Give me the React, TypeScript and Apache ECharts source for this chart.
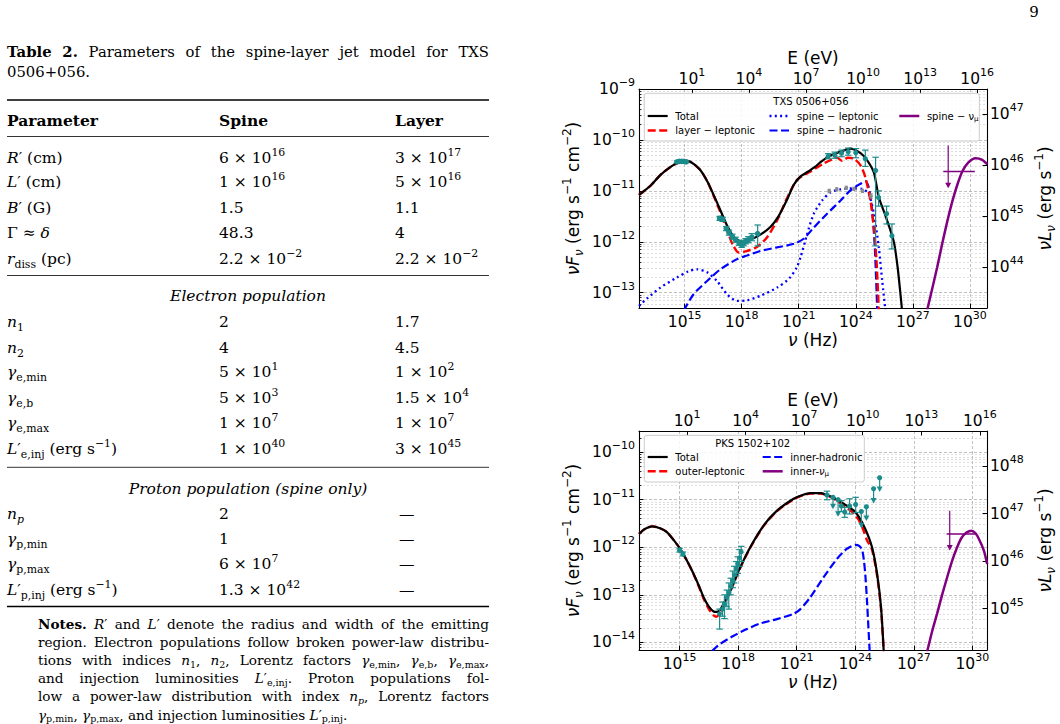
import React, { useEffect, useRef } from 'react';
import * as echarts from 'echarts';

const SANS = '"DejaVu Sans", Verdana, sans-serif';
const SERIF = '"DejaVu Serif", serif';
const TEAL = '#1b8b8b';
const GREY = '#8c8c8c';
const PURPLE = '#800080';
const RED = '#ff0000';
const BLUE = '#0000ff';

// ---------- TXS 0506+056 : [log10 nu (Hz), log10 nuFnu (erg s^-1 cm^-2)] ----------
const txsTotal = [[12.6,-11.08],[13.2,-10.9],[13.72,-10.69],[14.3,-10.52],[14.7,-10.44],[15.0,-10.41],[15.3,-10.43],[15.8,-10.58],[16.2,-10.82],[16.55,-11.1],[16.88,-11.38],[17.23,-11.68],[17.58,-11.9],[18.02,-12.0],[18.46,-11.96],[18.98,-11.86],[19.51,-11.71],[19.95,-11.49],[20.39,-11.17],[20.74,-10.88],[21.09,-10.72],[21.5,-10.62],[21.85,-10.53],[22.2,-10.42],[22.6,-10.32],[23.2,-10.23],[23.72,-10.17],[24.25,-10.26],[24.6,-10.4],[24.95,-10.64],[25.21,-11.12],[25.6,-11.53],[26.0,-12.0],[26.2,-12.5],[26.35,-13.03],[26.46,-13.45]];
const txsLayerLep = [[12.6,-11.08],[13.2,-10.9],[13.72,-10.69],[14.3,-10.52],[14.7,-10.44],[15.0,-10.41],[15.3,-10.43],[15.8,-10.58],[16.2,-10.82],[16.55,-11.12],[16.88,-11.42],[17.23,-11.78],[17.55,-12.07],[17.84,-12.21],[18.2,-12.19],[18.8,-12.1],[19.34,-11.91],[19.86,-11.58],[20.39,-11.14],[20.92,-10.78],[21.62,-10.62],[22.32,-10.46],[22.7,-10.39],[23.02,-10.35],[23.28,-10.41],[23.58,-10.35],[23.9,-10.37],[24.25,-10.5],[24.5,-10.73],[24.77,-11.19],[24.95,-11.72],[25.09,-12.37],[25.21,-13.35]];
const txsSpineLep = [[12.6,-13.26],[13.0,-13.12],[13.72,-12.9],[14.6,-12.7],[15.2,-12.58],[15.65,-12.54],[16.18,-12.6],[16.7,-12.77],[17.23,-13.03],[17.76,-13.16],[18.28,-13.15],[18.98,-13.06],[19.86,-12.9],[20.5,-12.72],[20.9,-12.5],[21.09,-12.31],[21.44,-11.85],[21.79,-11.45],[22.23,-11.19],[22.67,-11.03],[23.2,-10.97],[23.9,-10.95],[24.34,-10.96],[24.68,-11.06],[24.95,-11.45],[25.21,-12.11],[25.39,-12.77],[25.56,-13.35]];
const txsSpineHad = [[14.95,-13.35],[15.47,-13.03],[16.18,-12.77],[16.88,-12.54],[17.76,-12.34],[18.28,-12.27],[18.98,-12.18],[19.86,-12.11],[20.74,-12.04],[21.26,-11.94],[21.79,-11.72],[22.49,-11.45],[23.2,-11.19],[23.72,-10.99],[24.25,-10.86],[24.51,-10.81],[24.68,-10.93],[24.86,-11.39],[25.0,-12.11],[25.13,-13.35]];
const txsSpineNu = [[27.75,-13.35],[28.0,-12.95],[28.28,-12.5],[28.55,-12.03],[28.81,-11.6],[29.08,-11.2],[29.34,-10.88],[29.6,-10.62],[29.9,-10.45],[30.3,-10.36],[30.65,-10.39],[30.92,-10.48]];
const txsNuLimitBar = [[28.6,-10.62],[30.26,-10.62]];
const txsNuLimitArrow = [[28.86,-10.11,-10.95]];
// measured fluxes: [log nu, log nuFnu, lower, upper]
const txsOptical = [[14.6,-10.43,-10.45,-10.41],[14.72,-10.42,-10.44,-10.4],[14.84,-10.42,-10.44,-10.4],[14.96,-10.42,-10.44,-10.4],[15.08,-10.43,-10.45,-10.41]];
const txsXray = [[16.84,-11.54,-11.58,-11.5],[17.0,-11.56,-11.6,-11.52],[17.19,-11.74,-11.78,-11.7],[17.33,-11.82,-11.87,-11.77],[17.51,-11.9,-11.95,-11.85],[17.68,-11.96,-12.01,-11.91],[17.86,-12.02,-12.07,-11.97],[18.0,-12.06,-12.11,-12.01],[18.1,-12.03,-12.08,-11.98],[18.2,-11.99,-12.04,-11.94],[18.35,-11.96,-12.02,-11.9],[18.53,-11.91,-11.98,-11.84],[18.84,-11.84,-12.08,-11.67]];
const txsGamma = [[22.55,-10.32,-10.37,-10.27],[22.9,-10.3,-10.36,-10.24],[23.25,-10.26,-10.33,-10.2],[23.6,-10.23,-10.3,-10.16],[24.0,-10.25,-10.35,-10.17],[24.5,-10.37,-10.52,-10.2],[25.04,-10.6,-12.08,-10.34],[25.2,-11.13,-11.3,-11.0],[25.62,-11.45,-11.65,-11.3],[25.9,-11.88,-12.14,-11.65]];
const txsArchival = [[22.6,-11.0,-11.03,-10.97],[23.0,-10.97,-11.0,-10.94],[23.5,-10.94,-10.97,-10.91],[23.9,-10.96,-10.99,-10.93],[24.35,-11.0,-11.03,-10.97],[24.8,-11.1,-11.14,-11.06]];

// ---------- PKS 1502+102 ----------
const pksTotal = [[12.92,-11.72],[13.2,-11.62],[13.6,-11.56],[14.0,-11.6],[14.35,-11.68],[14.7,-11.85],[15.04,-12.04],[15.4,-12.3],[15.72,-12.56],[16.0,-12.82],[16.23,-13.05],[16.5,-13.25],[16.74,-13.35],[16.92,-13.36],[17.1,-13.3],[17.26,-13.18],[17.6,-12.91],[18.02,-12.5],[18.62,-12.0],[19.31,-11.54],[19.99,-11.23],[20.84,-10.98],[21.3,-10.9],[21.7,-10.86],[22.21,-10.86],[22.89,-10.96],[23.58,-11.13],[23.9,-11.22],[24.17,-11.35],[24.52,-11.62],[24.86,-12.0],[25.12,-12.56],[25.32,-13.26],[25.46,-14.2]];
const pksOuterLep = [[12.92,-11.72],[13.2,-11.62],[13.6,-11.56],[14.0,-11.6],[14.35,-11.68],[14.7,-11.85],[15.04,-12.04],[15.4,-12.3],[15.72,-12.57],[16.0,-12.84],[16.23,-13.08],[16.5,-13.3],[16.74,-13.43],[16.9,-13.46],[17.1,-13.36],[17.26,-13.22],[17.6,-12.93],[18.02,-12.51],[18.62,-12.01],[19.31,-11.55],[19.99,-11.24],[20.84,-10.99],[21.3,-10.91],[21.7,-10.87],[22.21,-10.87],[22.89,-10.98],[23.58,-11.17],[23.9,-11.28],[24.17,-11.42],[24.4,-11.62],[24.6,-11.85],[24.86,-12.05],[25.12,-12.6],[25.32,-13.3],[25.46,-14.2]];
const pksInnerHad = [[16.66,-14.18],[17.09,-14.03],[17.77,-13.86],[18.45,-13.72],[19.14,-13.6],[19.99,-13.51],[20.84,-13.4],[21.19,-13.3],[21.7,-13.05],[22.38,-12.63],[23.07,-12.24],[23.58,-12.03],[24.01,-11.95],[24.2,-11.97],[24.35,-12.05],[24.45,-12.3],[24.52,-12.6],[24.6,-13.12],[24.74,-14.2]];
const pksInnerNu = [[27.68,-14.2],[27.95,-13.75],[28.19,-13.4],[28.45,-13.0],[28.71,-12.63],[28.95,-12.3],[29.22,-12.0],[29.45,-11.8],[29.7,-11.69],[29.95,-11.65],[30.15,-11.7],[30.33,-11.82],[30.59,-12.07],[30.76,-12.35]];
const pksNuLimitBar = [[28.68,-11.72],[30.2,-11.72]];
const pksNuLimitArrow = [[28.84,-11.23,-12.07]];
const pksOptical = [[15.0,-12.06,-12.1,-12.02],[15.17,-12.14,-12.18,-12.1]];
const pksXray = [[17.05,-13.4,-13.72,-13.3],[17.2,-13.3,-13.45,-13.15],[17.3,-13.2,-13.5,-13.0],[17.42,-13.05,-13.25,-12.9],[17.52,-12.95,-13.3,-12.75],[17.62,-12.82,-13.0,-12.65],[17.72,-12.7,-12.85,-12.5],[17.8,-12.58,-12.75,-12.4],[17.9,-12.45,-12.6,-12.3],[17.98,-12.35,-12.55,-12.2],[18.07,-12.22,-12.4,-12.05],[18.16,-12.1,-12.3,-11.98]];
const pksGamma = [[22.55,-10.9,-11.0,-10.82],[23.29,-11.13,-11.25,-11.02],[23.46,-11.26,-11.37,-11.16],[23.71,-11.13,-11.3,-10.98],[24.02,-11.1,-11.27,-10.95]];
// upper limits: [log nu, top, arrow tip]
const pksGammaLimits = [[22.86,-10.95,-11.2],[23.12,-11.0,-11.36],[24.31,-11.25,-11.6],[24.57,-11.15,-11.45],[24.94,-10.77,-11.08],[25.25,-10.54,-10.84]];

// ---------- axis extents and ticks (log10 units) ----------
const LOG_H_EV = 14.3835; // log10 E(eV) = log10 nu - 14.3835
const nuTicks = [15, 18, 21, 24, 27, 30];
const eTicks = [1, 4, 7, 10, 13, 16];
const txsNuRange = [12.6, 30.9];
const txsFluxRange = [-13.3, -9];
const txsFluxTicks = [-13, -12, -11, -10, -9];
const txsLumShift = 56.5;
const txsLumTicks = [44, 45, 46, 47];
const pksNuRange = [12.92, 30.75];
const pksFluxRange = [-14.16, -9.555];
const pksFluxTicks = [-14, -13, -12, -11, -10];
const pksLumShift = 58.29;
const pksLumTicks = [45, 46, 47, 48];

// ---------- table text ----------
const captionLines = ['{b|Table} {b|2.} Parameters of the spine-layer jet model for TXS', '0506+056.'];
const tableHead = ['Parameter', 'Spine', 'Layer'];
const jetRows = [
  ['{i|R}′ (cm)', '6 × 10{p|16}', '3 × 10{p|17}'],
  ['{i|L}′ (cm)', '1 × 10{p|16}', '5 × 10{p|16}'],
  ['{i|B}′ (G)', '1.5', '1.1'],
  ['Γ ≈ {i|δ}', '48.3', '4'],
  ['{i|r}{d|diss} (pc)', '2.2 × 10{p|−2}', '2.2 × 10{p|−2}'],
];
const electronRows = [
  ['{i|n}{d|1}', '2', '1.7'],
  ['{i|n}{d|2}', '4', '4.5'],
  ['{i|γ}{d|e,min}', '5 × 10{p|1}', '1 × 10{p|2}'],
  ['{i|γ}{d|e,b}', '5 × 10{p|3}', '1.5 × 10{p|4}'],
  ['{i|γ}{d|e,max}', '1 × 10{p|7}', '1 × 10{p|7}'],
  ['{i|L}′{d|e,inj} (erg s{p|−1})', '1 × 10{p|40}', '3 × 10{p|45}'],
];
const protonRows = [
  ['{i|n}{di|p}', '2', '—'],
  ['{i|γ}{d|p,min}', '1', '—'],
  ['{i|γ}{d|p,max}', '6 × 10{p|7}', '—'],
  ['{i|L}′{d|p,inj} (erg s{p|−1})', '1.3 × 10{p|42}', '—'],
];
const noteLines = [
  '{b|Notes.} {i|R}′ and {i|L}′ denote the radius and width of the emitting',
  'region. Electron populations follow broken power-law distribu-',
  'tions with indices {i|n}{d|1}, {i|n}{d|2}, Lorentz factors {i|γ}{d|e,min}, {i|γ}{d|e,b}, {i|γ}{d|e,max},',
  'and injection luminosities {i|L}′{d|e,inj}. Proton populations fol-',
  'low a power-law distribution with index {i|n}{di|p}, Lorentz factors',
  '{i|γ}{d|p,min}, {i|γ}{d|p,max}, and injection luminosities {i|L}′{d|p,inj}.',
];

// ---------- helpers ----------
const pow10 = (v: number) => {
  const n = Math.round(v);
  return `{b|10}{s|${n < 0 ? '\u2212' + -n : n}}`;
};
const tickRich = {
  b: { fontFamily: SANS, fontSize: 15.5, color: '#000', lineHeight: 24 },
  s: { fontFamily: SANS, fontSize: 11, color: '#000', lineHeight: 11, verticalAlign: 'top' },
};
const nameStyle = {
  fontFamily: SANS, fontSize: 17, color: '#000', lineHeight: 24,
  rich: {
    i: { fontFamily: SANS, fontSize: 17, fontStyle: 'italic', color: '#000', lineHeight: 24 },
    si: { fontFamily: SANS, fontSize: 12, fontStyle: 'italic', color: '#000', lineHeight: 12, verticalAlign: 'bottom' },
    su: { fontFamily: SANS, fontSize: 12, color: '#000', lineHeight: 12, verticalAlign: 'top' },
  },
};

function minorTicks(lo: number, hi: number) {
  const out: number[] = [];
  for (let n = Math.floor(lo); n <= Math.ceil(hi); n++) {
    for (let k = 2; k <= 9; k++) {
      const v = n + Math.log10(k);
      if (v > lo && v < hi) out.push(v);
    }
  }
  return out;
}

function mainAxis(grid: number, position: string, range: number[], ticks: number[], margin: number, split: boolean, name?: string, nameGap?: number, nameRotate?: number) {
  return {
    type: 'value', gridIndex: grid, position, min: range[0], max: range[1],
    name: name ?? '', nameLocation: 'middle', nameGap: nameGap ?? 0, nameRotate, nameTextStyle: nameStyle,
    nameMoveOverlap: false,
    axisLine: { show: true, onZero: false, lineStyle: { color: '#000', width: 1.1 } },
    axisTick: { show: true, inside: true, length: 4.5, customValues: ticks, lineStyle: { color: '#000', width: 1 } },
    axisLabel: { show: true, customValues: ticks, formatter: pow10, margin, rich: tickRich, color: '#000' },
    splitLine: { show: split, lineStyle: { color: '#b0b0b0', width: 0.8, type: [3, 2] } },
    minorTick: { show: false }, minorSplitLine: { show: false }, splitArea: { show: false },
    silent: true,
  };
}
function minorAxis(grid: number, position: string, range: number[]) {
  const vals = minorTicks(range[0], range[1]);
  return {
    type: 'value', gridIndex: grid, position, min: range[0], max: range[1],
    axisLine: { show: false, onZero: false },
    axisTick: { show: true, inside: true, length: 2.5, customValues: vals, lineStyle: { color: '#000', width: 0.8 } },
    axisLabel: { show: false, customValues: vals },
    splitLine: { show: true, lineStyle: { color: '#d0d0d0', width: 0.7, type: [2, 2] } },
    minorTick: { show: false }, minorSplitLine: { show: false }, silent: true,
  };
}

function curve(data: number[][], xi: number, yi: number, color: string, width: number, dash: any, z: number) {
  return {
    type: 'line', data, xAxisIndex: xi, yAxisIndex: yi, symbol: 'none', smooth: 0.25,
    lineStyle: { color, width, type: dash, cap: 'butt' }, z, silent: true, clip: true,
  };
}
function pointRender(color: string, r: number, cap: number) {
  return (_p: any, api: any) => {
    const x = api.value(0), y = api.value(1), lo = api.value(2), hi = api.value(3);
    const c = api.coord([x, y]); const a = api.coord([x, hi]); const b = api.coord([x, lo]);
    const st = { stroke: color, lineWidth: 1.2 };
    return {
      type: 'group', children: [
        { type: 'line', shape: { x1: a[0], y1: a[1], x2: b[0], y2: b[1] }, style: st },
        { type: 'line', shape: { x1: a[0] - cap, y1: a[1], x2: a[0] + cap, y2: a[1] }, style: st },
        { type: 'line', shape: { x1: b[0] - cap, y1: b[1], x2: b[0] + cap, y2: b[1] }, style: st },
        { type: 'circle', shape: { cx: c[0], cy: c[1], r }, style: { fill: color } },
      ],
    };
  };
}
function limitRender(color: string, r: number) {
  return (_p: any, api: any) => {
    const x = api.value(0), y0 = api.value(1), y1 = api.value(2);
    const a = api.coord([x, y0]); const b = api.coord([x, y1]);
    const children: any[] = [
      { type: 'line', shape: { x1: a[0], y1: a[1], x2: b[0], y2: b[1] - 3 }, style: { stroke: color, lineWidth: 1.2 } },
      { type: 'polygon', shape: { points: [[b[0] - 3, b[1] - 5.5], [b[0] + 3, b[1] - 5.5], [b[0], b[1]]] }, style: { fill: color } },
    ];
    if (r > 0) children.push({ type: 'circle', shape: { cx: a[0], cy: a[1], r }, style: { fill: color } });
    return { type: 'group', children };
  };
}
function points(data: number[][], xi: number, yi: number, color: string, r: number, z: number, cap = 3.2) {
  return { type: 'custom', data, xAxisIndex: xi, yAxisIndex: yi, encode: { x: 0, y: 1 }, renderItem: pointRender(color, r, cap), clip: true, z, silent: true };
}
function limits(data: number[][], xi: number, yi: number, color: string, r: number, z: number) {
  return { type: 'custom', data, xAxisIndex: xi, yAxisIndex: yi, encode: { x: 0, y: 1 }, renderItem: limitRender(color, r), clip: true, z, silent: true };
}

// ---------- serif text layout ----------
function richSerif(size: number, lh: number) {
  const small = Math.round(size * 0.7 * 10) / 10;
  return {
    i: { fontFamily: SERIF, fontSize: size, fontStyle: 'italic', fill: '#000', lineHeight: lh },
    b: { fontFamily: SERIF, fontSize: size, fontWeight: 'bold', fill: '#000', lineHeight: lh },
    d: { fontFamily: SERIF, fontSize: small, fill: '#000', lineHeight: small, verticalAlign: 'bottom' },
    di: { fontFamily: SERIF, fontSize: small, fontStyle: 'italic', fill: '#000', lineHeight: small, verticalAlign: 'bottom' },
    p: { fontFamily: SERIF, fontSize: small, fill: '#000', lineHeight: small, verticalAlign: 'top' },
  };
}
function cssFont(styleName: string | null, size: number) {
  const small = Math.round(size * 0.7 * 10) / 10;
  switch (styleName) {
    case 'i': return `italic ${size}px "DejaVu Serif"`;
    case 'b': return `bold ${size}px "DejaVu Serif"`;
    case 'd': case 'p': return `${small}px "DejaVu Serif"`;
    case 'di': return `italic ${small}px "DejaVu Serif"`;
    default: return `${size}px "DejaVu Serif"`;
  }
}
let measureCtx: CanvasRenderingContext2D | null = null;
function measureRich(s: string, size: number) {
  if (!measureCtx) measureCtx = document.createElement('canvas').getContext('2d');
  const ctx = measureCtx!;
  const re = /\{(\w+)\|([^}]*)\}/g;
  let last = 0; let m: RegExpExecArray | null; let w = 0;
  const add = (t: string, st: string | null) => { ctx.font = cssFont(st, size); w += ctx.measureText(t).width; };
  while ((m = re.exec(s))) {
    if (m.index > last) add(s.slice(last, m.index), null);
    add(m[2], m[1]);
    last = re.lastIndex;
  }
  if (last < s.length) add(s.slice(last), null);
  return w;
}
function serifText(x: number, y: number, text: string, size: number, opts: any = {}) {
  const lh = opts.lh ?? Math.round(size * 1.45);
  const align = opts.align ?? 'left';
  return {
    type: 'text', x, y, silent: true, z: 10,
    style: {
      text, fill: '#000', fontFamily: SERIF, fontSize: size,
      fontStyle: opts.italic ? 'italic' : 'normal', fontWeight: opts.bold ? 'bold' : 'normal',
      lineHeight: lh, rich: richSerif(size, lh),
      textAlign: align, align, textVerticalAlign: 'middle', verticalAlign: 'middle',
    },
  };
}
function justified(x0: number, width: number, y: number, line: string, size: number, last: boolean, lh?: number) {
  if (last) return [serifText(x0, y, line, size, { lh })];
  const words = line.split(' ').filter(Boolean);
  const ws = words.map((w) => measureRich(w, size));
  const total = ws.reduce((a, b) => a + b, 0);
  const gap = Math.max(2, (width - total) / Math.max(1, words.length - 1));
  const out: any[] = [];
  let x = x0;
  words.forEach((w, k) => { out.push(serifText(x, y, w, size, { lh })); x += ws[k] + gap; });
  return out;
}
function rule(y: number, w: number) {
  return { type: 'line', silent: true, z: 10, shape: { x1: 7, y1: y, x2: 489, y2: y }, style: { stroke: '#000', lineWidth: w } };
}

function tableElements() {
  const els: any[] = [];
  const cols = [7, 219, 395];
  const TS = 15.5;
  els.push(...justified(7, 482, 51.7, captionLines[0], 14.8, false));
  els.push(...justified(7, 482, 71.7, captionLines[1], 14.8, true));
  els.push(rule(100, 1.6), rule(136.5, 0.8), rule(275.5, 0.8), rule(467.3, 0.8), rule(606.5, 1.6));
  tableHead.forEach((h, k) => els.push(serifText(cols[k], 120.5, h, TS, { bold: true })));
  const put = (rows: string[][], ys: number[]) => rows.forEach((r, i) => r.forEach((c, k) => {
    const x = c === '—' ? cols[k] + 4 : cols[k];
    els.push(serifText(x, ys[i], c, TS, { lh: 22 }));
  }));
  put(jetRows, [157.5, 182, 207.5, 233, 259]);
  els.push(serifText(248, 296, 'Electron population', TS, { italic: true, align: 'center' }));
  put(electronRows, [321.5, 347.5, 372, 397.5, 423, 448.5]);
  els.push(serifText(248, 488.5, 'Proton population (spine only)', TS, { italic: true, align: 'center' }));
  put(protonRows, [513.5, 538.5, 563.5, 589.5]);
  const noteY = [624, 642.1, 660.2, 678.3, 696.4, 714.5];
  noteLines.forEach((l, i) => els.push(...justified(38, 451, noteY[i], l, 13.6, i === noteLines.length - 1, 18)));
  els.push(serifText(1034, 12, '9', 15, { align: 'center' }));
  return els;
}

// ---------- legends ----------
function legendElements(box: number[], title: string, titleX: number, titleY: number, items: any[]) {
  const els: any[] = [];
  els.push({ type: 'rect', z: 50, silent: true, shape: { x: box[0], y: box[1], width: box[2], height: box[3], r: 2.5 }, style: { fill: 'rgba(255,255,255,0.85)', stroke: '#cccccc', lineWidth: 1 } });
  const lrich = {
    d: { fontFamily: SANS, fontSize: 7, fill: '#000', lineHeight: 7, verticalAlign: 'bottom' },
    i: { fontFamily: SANS, fontSize: 10, fontStyle: 'italic', fill: '#000', lineHeight: 13 },
  };
  const t = (x: number, y: number, text: string, align: string) => ({
    type: 'text', x, y, z: 51, silent: true,
    style: { text, fill: '#000', fontFamily: SANS, fontSize: 10, lineHeight: 13, rich: lrich, textAlign: align, align, textVerticalAlign: 'middle', verticalAlign: 'middle' },
  });
  els.push(t(titleX, titleY, title, 'center'));
  items.forEach((it) => {
    els.push({ type: 'line', z: 51, silent: true, shape: { x1: it.x, y1: it.y, x2: it.x + 20, y2: it.y }, style: { stroke: it.color, lineWidth: it.width, lineDash: it.dash } });
    els.push(t(it.x + 27.6, it.y, it.label, 'left'));
  });
  return els;
}

const DASH = [8, 3.5];
const DOT = [2, 3.3];

function buildOption() {
  const xAxis = [
    mainAxis(0, 'bottom', txsNuRange, nuTicks, 2, true, '{i|ν} (Hz)', 20),
    mainAxis(0, 'top', [txsNuRange[0] - LOG_H_EV, txsNuRange[1] - LOG_H_EV], eTicks, -1.5, false, 'E (eV)', 19.5),
    mainAxis(1, 'bottom', pksNuRange, nuTicks, 2, true, '{i|ν} (Hz)', 20),
    mainAxis(1, 'top', [pksNuRange[0] - LOG_H_EV, pksNuRange[1] - LOG_H_EV], eTicks, -1.5, false, 'E (eV)', 19.5),
  ];
  const fluxName = '{i|νF}{si|ν} (erg s{su|−1} cm{su|−2})';
  const lumName = '{i|νL}{si|ν} (erg s{su|−1})';
  const yAxis = [
    mainAxis(0, 'left', txsFluxRange, txsFluxTicks, 4, true, fluxName, 54, 90),
    mainAxis(0, 'right', [txsFluxRange[0] + txsLumShift, txsFluxRange[1] + txsLumShift], txsLumTicks, 3, false, lumName, 46, 90),
    minorAxis(0, 'left', txsFluxRange),
    mainAxis(1, 'left', pksFluxRange, pksFluxTicks, 4, true, fluxName, 54, 90),
    mainAxis(1, 'right', [pksFluxRange[0] + pksLumShift, pksFluxRange[1] + pksLumShift], pksLumTicks, 3, false, lumName, 46, 90),
    minorAxis(1, 'left', pksFluxRange),
  ];
  const series = [
    curve(txsSpineHad, 0, 0, BLUE, 2.2, DASH, 3),
    curve(txsSpineLep, 0, 0, BLUE, 2.3, DOT, 3),
    curve(txsLayerLep, 0, 0, RED, 2.4, DASH, 4),
    curve(txsTotal, 0, 0, '#000', 2.2, 'solid', 5),
    curve(txsSpineNu, 0, 0, PURPLE, 2.5, 'solid', 5),
    curve(txsNuLimitBar, 0, 0, PURPLE, 1.5, 'solid', 6),
    limits(txsNuLimitArrow, 0, 0, PURPLE, 0, 6),
    points(txsArchival, 0, 0, GREY, 1.9, 6, 1.5),
    points(txsOptical, 0, 0, TEAL, 2.8, 7),
    points(txsXray, 0, 0, TEAL, 2.8, 7),
    points(txsGamma, 0, 0, TEAL, 2.6, 7),

    curve(pksInnerHad, 2, 3, BLUE, 2.2, DASH, 3),
    curve(pksOuterLep, 2, 3, RED, 2.4, DASH, 4),
    curve(pksTotal, 2, 3, '#000', 2.2, 'solid', 5),
    curve(pksInnerNu, 2, 3, PURPLE, 2.5, 'solid', 5),
    curve(pksNuLimitBar, 2, 3, PURPLE, 1.5, 'solid', 6),
    limits(pksNuLimitArrow, 2, 3, PURPLE, 0, 6),
    points(pksOptical, 2, 3, TEAL, 2.6, 7),
    points(pksXray, 2, 3, TEAL, 2.4, 7),
    points(pksGamma, 2, 3, TEAL, 2.6, 7),
    limits(pksGammaLimits, 2, 3, TEAL, 2.6, 7),
  ];
  const legends = [
    ...legendElements([644.3, 93.3, 335, 47.7], 'TXS 0506+056', 811, 101.5, [
      { x: 647.7, y: 116, label: 'Total', color: '#000', width: 2.2, dash: null },
      { x: 647.7, y: 130.5, label: 'layer − leptonic', color: RED, width: 2.4, dash: DASH },
      { x: 769.5, y: 116, label: 'spine − leptonic', color: BLUE, width: 2.3, dash: DOT },
      { x: 769.5, y: 130.5, label: 'spine − hadronic', color: BLUE, width: 2.2, dash: DASH },
      { x: 899.3, y: 116, label: 'spine − ν{d|μ}', color: PURPLE, width: 2.5, dash: null },
    ]),
    ...legendElements([644.3, 435.3, 220, 46.7], 'PKS 1502+102', 752.7, 443.5, [
      { x: 647.7, y: 457, label: 'Total', color: '#000', width: 2.2, dash: null },
      { x: 647.7, y: 471.3, label: 'outer-leptonic', color: RED, width: 2.4, dash: DASH },
      { x: 762.7, y: 457, label: 'inner-hadronic', color: BLUE, width: 2.2, dash: DASH },
      { x: 762.7, y: 471.3, label: 'inner-{i|ν}{d|μ}', color: PURPLE, width: 2.5, dash: null },
    ]),
  ];
  return {
    animation: false,
    backgroundColor: '#ffffff',
    grid: [
      { left: 639, top: 89, width: 348, height: 219, containLabel: false, outerBoundsMode: 'none', show: false },
      { left: 639, top: 431, width: 348, height: 219, containLabel: false, outerBoundsMode: 'none', show: false },
    ],
    xAxis, yAxis, series,
    graphic: { elements: [...tableElements(), ...legends] },
  };
}

export default function App() {
  const ref = useRef<HTMLDivElement>(null);
  useEffect(() => {
    if (!ref.current) return;
    const chart = echarts.init(ref.current, undefined, { renderer: 'svg' });
    chart.setOption(buildOption() as any);
    return () => chart.dispose();
  }, []);
  return <div ref={ref} style={{ position: 'absolute', left: 0, top: 0, width: 1060, height: 724, background: '#fff' }} />;
}
